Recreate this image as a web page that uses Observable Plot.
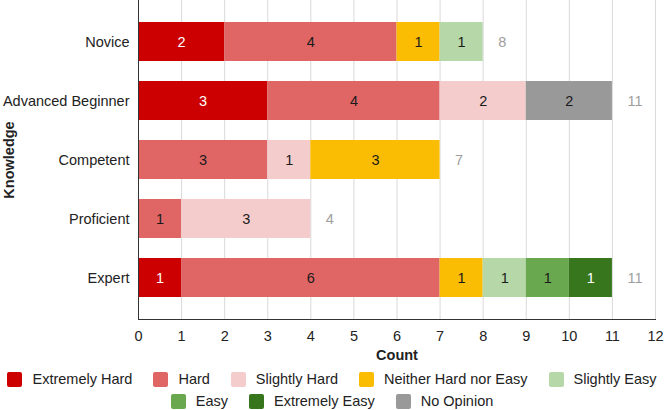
<!DOCTYPE html>
<html><head><meta charset="utf-8">
<script src="https://cdn.jsdelivr.net/npm/d3@7"></script>
<script src="https://cdn.jsdelivr.net/npm/@observablehq/plot@0.6"></script>
<style>
body{margin:0;background:#fff;font-family:"Liberation Sans",Arial,sans-serif;}
#legend{width:664px;font-size:14.5px;color:#222;padding-top:2px}
.row{display:flex;justify-content:center;height:22px;align-items:center;white-space:nowrap}
.item{display:flex;align-items:center;margin:0 10.5px}
.sw{width:15px;height:15px;border-radius:2px;margin-right:10px}
</style></head><body><div id="chart"></div><div id="legend"></div>
<script>
const knowledge = ["Novice", "Advanced Beginner", "Competent", "Proficient", "Expert"];
const responses = ["Extremely Hard", "Hard", "Slightly Hard", "Neither Hard nor Easy", "Slightly Easy", "Easy", "Extremely Easy", "No Opinion"];
const colors = ["#cc0000", "#e06666", "#f4cccc", "#fbbc04", "#b6d7a8", "#6aa84f", "#38761d", "#999999"];
const extremelyHard = [2, 3, 0, 0, 1];
const hard = [4, 4, 3, 1, 6];
const slightlyHard = [0, 2, 1, 3, 0];
const neither = [1, 0, 3, 0, 1];
const slightlyEasy = [1, 0, 0, 0, 1];
const easy = [0, 0, 0, 0, 1];
const extremelyEasy = [0, 0, 0, 0, 1];
const noOpinion = [0, 2, 0, 0, 0];
const xTicks = [0, 1, 2, 3, 4, 5, 6, 7, 8, 9, 10, 11, 12];

const series = [extremelyHard, hard, slightlyHard, neither, slightlyEasy, easy, extremelyEasy, noOpinion];
const data = [];
responses.forEach((r, i) => knowledge.forEach((k, j) => {
  if (series[i][j] > 0) data.push({knowledge: k, response: r, value: series[i][j]});
}));
const totals = knowledge.map((k, j) => ({knowledge: k, total: d3.sum(series, s => s[j])}));
const whiteText = new Set(["Extremely Hard", "Extremely Easy"]);

const chart = Plot.plot({
  width: 664,
  height: 366,
  marginTop: 0,
  marginBottom: 47,
  marginLeft: 138,
  marginRight: 9,
  style: {fontSize: "14.5px", fontFamily: "Liberation Sans, Arial, sans-serif", color: "#222", background: "#fff"},
  x: {domain: [0, 12]},
  y: {domain: knowledge, padding: 0.345},
  color: {domain: responses, range: colors},
  marks: [
    Plot.gridX(xTicks, {stroke: "#d9d9d9", strokeOpacity: 1, strokeWidth: 1}),
    Plot.barX(data, {x: "value", y: "knowledge", fill: "response", order: responses}),
    Plot.text(data, Plot.stackX({x: "value", y: "knowledge", z: "response", order: responses, text: "value",
      fill: d => whiteText.has(d.response) ? "#ffffff" : "#1a1a1a"})),
    Plot.text(totals, {x: "total", y: "knowledge", text: "total", dx: 15, textAnchor: "start", fill: "#9e9e9e"}),
    Plot.ruleX([0], {stroke: "#333", strokeWidth: 1}),
    Plot.frame({anchor: "bottom", stroke: "#333"}),
    Plot.axisX({ticks: xTicks, tickSize: 0, tickPadding: 11, label: null}),
    Plot.axisX({ticks: [], label: "Count", labelAnchor: "center", labelArrow: "none", labelOffset: 40, fontWeight: "bold"}),
    Plot.axisY({tickSize: 0, tickPadding: 9, label: null}),
    Plot.axisY({ticks: [], label: "Knowledge", labelAnchor: "center", labelArrow: "none", labelOffset: 135, fontWeight: "bold"})
  ]
});
document.getElementById("chart").appendChild(chart);

const rows = [responses.slice(0, 5), responses.slice(5)];
const legend = document.getElementById("legend");
rows.forEach(row => {
  const div = document.createElement("div");
  div.className = "row";
  row.forEach(r => {
    const item = document.createElement("div");
    item.className = "item";
    const sw = document.createElement("span");
    sw.className = "sw";
    sw.style.background = colors[responses.indexOf(r)];
    const t = document.createElement("span");
    t.textContent = r;
    item.appendChild(sw); item.appendChild(t);
    div.appendChild(item);
  });
  legend.appendChild(div);
});
</script>
</body></html>
